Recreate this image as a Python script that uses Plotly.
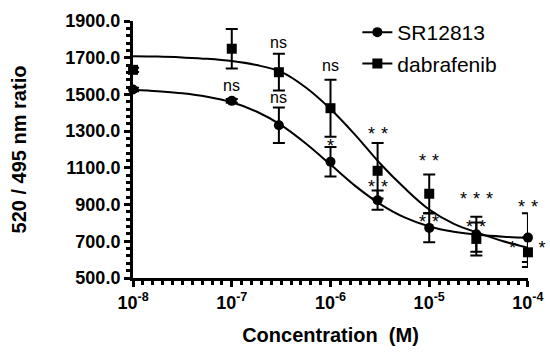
import math
import plotly.graph_objects as go

# ---------------- data ----------------
conc = [1e-8, 1e-7, 3e-7, 1e-6, 3e-6, 1e-5, 3e-5, 1e-4]

sr_mean = [1527, 1465, 1332, 1133, 924, 773, 738, 720]
sr_sem = [10, 10, 97, 80, 52, 78, 95, 133]

dab_mean = [1634, 1749, 1621, 1425, 1084, 959, 713, 640]
dab_sem = [12, 108, 100, 155, 151, 105, 90, 80]

# fitted curves (log10 concentration -> ratio)
curve_log_conc = [-8.0, -7.75, -7.5, -7.25, -7.0, -6.75, -6.5, -6.25, -6.0,
                  -5.75, -5.5, -5.25, -5.0, -4.75, -4.5, -4.25, -4.0]
sr_curve = [1525, 1517, 1506, 1487, 1457, 1407, 1333, 1233, 1118,
            1002, 904, 830, 781, 752, 735, 725, 719]
dab_curve = [1708, 1706, 1701, 1694, 1682, 1660, 1623, 1538, 1421,
             1280, 1125, 990, 873, 795, 745, 700, 665]

S = "\u2004"  # narrow space between asterisks
# significance labels: (concentration, text, y value of label)
sr_labels = [(1e-7, "ns", 1549), (3e-7, "ns", 1485), (1e-6, "*", 1220),
             (3e-6, f"*{S}*", 996), (1e-5, f"*{S}*", 805),
             (3e-5, f"*{S}*", 778), (1e-4, "*\u2002\u2002\u2005*", 666)]
dab_labels = [(1e-7, "ns", 1916), (3e-7, "ns", 1783), (1e-6, "ns", 1660),
              (3e-6, f"*{S}*", 1284), (1e-5, f"*{S}*", 1135),
              (3e-5, f"*{S}*{S}*", 933), (1e-4, f"*{S}*", 885)]

y_ticks = [500, 700, 900, 1100, 1300, 1500, 1700, 1900]
x_ticks = [1e-8, 1e-7, 1e-6, 1e-5, 1e-4]
x_tick_text = ["10<sup>-8</sup>", "10<sup>-7</sup>", "10<sup>-6</sup>",
               "10<sup>-5</sup>", "10<sup>-4</sup>"]
x_minor_log = [d + i / 10 for d in range(-8, -4) for i in range(1, 10)]

FONT = "Arial, 'Liberation Sans', sans-serif"

fig = go.Figure()

curve_conc = [10 ** v for v in curve_log_conc]
for ys in (sr_curve, dab_curve):
    fig.add_trace(go.Scatter(x=curve_conc, y=ys, mode="lines",
                             line=dict(color="black", width=2, shape="spline"),
                             showlegend=False, hoverinfo="skip", cliponaxis=False))

fig.add_trace(go.Scatter(x=conc, y=sr_mean, mode="markers",
                         marker=dict(symbol="circle", size=10, color="black"),
                         error_y=dict(type="data", array=sr_sem, width=6,
                                      thickness=2, color="black"),
                         showlegend=False, cliponaxis=False))
fig.add_trace(go.Scatter(x=conc, y=dab_mean, mode="markers",
                         marker=dict(symbol="square", size=10, color="black"),
                         error_y=dict(type="data", array=dab_sem, width=6,
                                      thickness=2, color="black"),
                         showlegend=False, cliponaxis=False))

# legend entries
fig.add_trace(go.Scatter(x=[None], y=[None], mode="lines+markers", name="SR12813",
                         legendgroup="a",
                         line=dict(color="black", width=2),
                         marker=dict(symbol="circle", size=10, color="black")))
fig.add_trace(go.Scatter(x=[None], y=[None], mode="lines+markers", name="dabrafenib",
                         legendgroup="b",
                         line=dict(color="black", width=2),
                         marker=dict(symbol="square", size=10, color="black")))

for c, t, yv in sr_labels + dab_labels:
    size = 16 if t == "ns" else 18
    fig.add_annotation(x=math.log10(c), y=yv, text=t, showarrow=False,
                       font=dict(family=FONT, size=size, color="black"),
                       xref="x", yref="y")

fig.update_layout(
    width=550, height=352,
    margin=dict(l=133, r=22, t=15, b=74),
    paper_bgcolor="white", plot_bgcolor="white",
    font=dict(family=FONT, color="black"),
    legend=dict(x=0.568, y=1.035, xanchor="left", yanchor="top",
                font=dict(family=FONT, size=21, color="black"),
                bgcolor="rgba(0,0,0,0)", tracegroupgap=1,
                traceorder="grouped"),
    showlegend=True,
)

fig.update_xaxes(
    type="log", range=[-8.0005, -3.9995], automargin=False,
    tickmode="array", tickvals=x_ticks, ticktext=x_tick_text,
    ticks="outside", ticklen=6, tickwidth=3, tickcolor="black",
    showline=True, linewidth=3, linecolor="black",
    showgrid=False, zeroline=False,
    tickfont=dict(family=FONT, size=18, color="black", weight="bold"),
    minor=dict(tickmode="array", tickvals=[10 ** v for v in x_minor_log],
               ticks="outside", ticklen=4, tickwidth=3, tickcolor="black",
               showgrid=False),
    title=dict(text="Concentration  (M)", standoff=17,
               font=dict(family=FONT, size=20, color="black", weight="bold")),
)

fig.update_yaxes(
    range=[500, 1900], automargin=False,
    tickmode="array", tickvals=y_ticks,
    ticktext=[f"{v:.1f}" for v in y_ticks],
    ticks="outside", ticklen=6, tickwidth=3, tickcolor="black",
    showline=True, linewidth=3, linecolor="black",
    showgrid=False, zeroline=False,
    tickfont=dict(family=FONT, size=18, color="black", weight="bold"),
    minor=dict(dtick=40, tick0=500, ticks="outside", ticklen=4, tickwidth=3,
               tickcolor="black", showgrid=False),
    title=dict(text="520 / 495 nm ratio", standoff=34,
               font=dict(family=FONT, size=20, color="black", weight="bold")),
)

fig.write_html("out.html",
               config={"displayModeBar": False},
               post_script="document.body.style.margin='0px';"
                           "document.body.style.overflow='hidden';")
